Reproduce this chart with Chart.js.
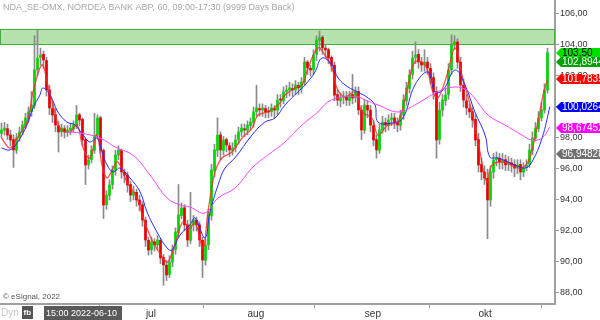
<!DOCTYPE html>
<html>
<head>
    <title>NDA_SE-OMX 60 min</title>
    <script src="https://cdn.jsdelivr.net/npm/chart.js"></script>
    <style>
        body { margin: 0; background: #fff; }
        canvas { display: block; }
    </style>
</head>
<body>
    <canvas id="myChart" width="600" height="320"></canvas>

    <script>
        // one candle per half trading day (approx)
        var opens = [
            98.30, 98.50, 98.60, 98.20, 97.90, 97.20, 98.00, 98.40, 98.80, 99.30, 99.70,
            100.10, 102.40, 103.20, 103.40, 103.00, 101.10, 99.90, 99.50, 98.80, 98.40,
            98.60, 98.40, 98.50, 98.60, 98.80, 99.50, 99.20, 97.90, 96.30, 96.60,
            97.20, 98.20, 99.30, 97.20, 93.70, 94.30, 95.00, 95.90, 96.90, 97.20,
            95.80, 95.60, 95.00, 94.30, 94.50, 94.00, 93.70, 92.70, 91.40, 90.80,
            91.30, 91.10, 91.40, 90.30, 89.80, 89.20, 90.00, 90.80, 91.90, 93.00,
            93.50, 92.40, 91.40, 92.40, 92.70, 92.40, 91.40, 90.10, 91.10, 93.00,
            95.90, 97.20, 98.20, 97.20, 97.90, 97.50, 97.20, 97.40, 97.90, 98.40,
            98.60, 98.50, 98.80, 99.00, 99.70, 99.90, 99.80, 99.90, 99.70, 99.70,
            99.90, 99.80, 100.50, 100.40, 101.00, 101.10, 101.20, 101.10, 101.40, 101.20,
            101.60, 102.90, 102.50, 102.40, 103.40, 104.30, 104.50, 103.80, 103.70, 103.20,
            102.70, 100.80, 100.40, 100.60, 100.70, 100.40, 100.80, 100.60, 101.00, 99.80,
            98.50, 100.10, 99.80, 98.80, 97.90, 97.20, 98.50, 99.00, 98.80, 99.20,
            99.30, 99.00, 98.80, 99.50, 100.40, 101.20, 102.10, 103.20, 103.40, 102.90,
            102.70, 102.90, 102.50, 101.90, 101.00, 97.90, 99.80, 100.40, 100.80, 102.40,
            104.00, 104.20, 102.90, 101.40, 100.40, 99.90, 99.70, 99.20, 97.90, 96.30,
            95.80, 95.40, 94.00, 95.80, 96.60, 96.70, 96.40, 96.60, 96.30, 96.40,
            96.30, 96.10, 96.30, 95.80, 96.10, 96.30, 97.20, 98.00, 98.60, 99.30,
            99.80, 101.10
        ];
        var highs = [
            98.95, 99.00, 98.90, 98.50, 98.20, 98.30, 98.70, 99.10, 99.60, 100.00, 101.00,
            104.60, 105.00, 103.80, 103.60, 103.20, 101.40, 100.30, 99.90, 99.10, 98.90,
            98.80, 98.80, 98.90, 99.10, 100.10, 99.60, 99.30, 98.00, 96.90, 97.50,
            99.60, 99.50, 99.40, 97.30, 94.60, 95.30, 96.20, 97.20, 97.50, 97.30,
            96.00, 95.80, 95.20, 94.90, 94.70, 94.30, 93.90, 92.90, 91.60, 91.60,
            91.50, 91.70, 91.50, 90.50, 90.10, 90.40, 91.10, 92.20, 95.00, 93.80,
            93.70, 92.70, 94.50, 93.00, 92.90, 92.60, 91.60, 91.50, 93.40, 96.30,
            97.60, 99.30, 98.40, 98.10, 98.00, 97.70, 97.70, 98.20, 98.70, 98.90,
            98.90, 99.10, 99.30, 100.00, 101.40, 100.20, 100.20, 100.10, 100.00, 100.20,
            100.10, 100.80, 100.80, 101.30, 101.40, 101.60, 101.50, 101.70, 101.60, 101.90,
            103.20, 103.00, 102.70, 103.70, 104.60, 104.90, 104.60, 104.00, 103.80, 103.30,
            102.90, 101.10, 100.90, 101.00, 101.00, 101.00, 102.10, 101.30, 101.30, 100.10,
            100.50, 100.40, 100.10, 99.10, 98.20, 98.90, 99.40, 99.30, 99.50, 99.60,
            99.60, 99.30, 99.80, 100.80, 101.60, 102.40, 103.60, 104.20, 103.70, 103.20,
            103.70, 103.20, 102.80, 102.20, 101.30, 100.30, 100.80, 101.20, 102.80, 104.65,
            104.60, 104.40, 103.20, 101.80, 100.80, 100.20, 100.00, 99.50, 98.30, 96.70,
            96.20, 96.00, 96.20, 97.00, 97.10, 97.00, 97.00, 96.90, 96.80, 96.70,
            96.60, 96.60, 96.60, 96.40, 96.60, 97.60, 98.40, 99.00, 99.70, 100.30,
            101.50, 103.80
        ];
        var lows = [
            98.00, 98.20, 97.90, 97.50, 96.10, 97.00, 97.80, 98.20, 98.60, 99.00, 99.40,
            99.90, 102.00, 102.70, 102.50, 100.70, 99.50, 99.00, 98.40, 97.10, 98.10,
            98.00, 98.10, 98.20, 98.40, 98.60, 98.80, 97.50, 95.00, 96.00, 96.40,
            97.00, 98.00, 97.00, 92.80, 93.40, 94.00, 94.70, 95.60, 96.60, 95.40,
            95.10, 94.50, 93.90, 94.00, 93.60, 93.30, 92.30, 91.00, 90.45, 90.50,
            90.70, 90.80, 89.90, 88.50, 88.80, 89.00, 89.70, 90.50, 91.60, 92.80,
            92.00, 91.00, 91.20, 92.00, 92.00, 91.00, 89.00, 89.80, 90.80, 92.70,
            95.50, 96.80, 96.60, 96.90, 97.10, 96.80, 96.90, 97.10, 97.60, 98.10,
            98.10, 98.20, 98.50, 98.70, 99.40, 99.40, 99.40, 99.30, 99.30, 99.40,
            99.30, 99.50, 100.00, 100.20, 100.60, 100.70, 100.70, 100.80, 100.80, 100.90,
            101.40, 102.10, 102.00, 102.10, 103.00, 103.60, 103.40, 103.20, 102.80, 102.30,
            100.40, 100.10, 100.00, 100.20, 100.10, 100.10, 100.20, 100.30, 99.50, 97.90,
            98.30, 99.30, 98.40, 97.50, 96.70, 97.00, 98.30, 98.40, 98.50, 98.80,
            98.60, 98.40, 98.50, 99.20, 100.10, 100.90, 101.80, 102.80, 102.50, 102.30,
            102.30, 102.10, 101.50, 100.50, 96.70, 97.60, 99.40, 100.10, 100.50, 102.10,
            103.70, 102.50, 101.00, 100.00, 99.50, 99.30, 98.70, 97.50, 95.80, 95.30,
            95.00, 91.50, 93.60, 95.40, 96.20, 96.00, 96.00, 95.90, 95.90, 95.80,
            95.50, 95.70, 95.30, 95.50, 95.90, 96.10, 96.90, 97.80, 98.40, 99.10,
            99.60, 100.90
        ];
        var closes = [
            98.52, 98.64, 98.19, 97.87, 97.23, 98.00, 98.39, 98.84, 99.29, 99.68, 100.13,
            102.39, 103.16, 103.35, 103.03, 101.10, 99.94, 99.48, 98.84, 98.39, 98.64,
            98.39, 98.52, 98.64, 98.84, 99.48, 99.16, 97.87, 96.26, 96.58, 97.23,
            98.19, 99.29, 97.23, 93.68, 94.32, 94.97, 95.94, 96.90, 97.23, 95.81,
            95.61, 94.97, 94.32, 94.52, 94.00, 93.68, 92.71, 91.42, 90.77, 91.29,
            91.10, 91.42, 90.26, 89.81, 89.16, 90.00, 90.77, 91.94, 93.03, 93.48,
            92.39, 91.42, 92.39, 92.71, 92.39, 91.42, 90.13, 91.10, 93.03, 95.94,
            97.23, 98.19, 97.23, 97.87, 97.55, 97.23, 97.35, 97.87, 98.39, 98.64,
            98.52, 98.84, 99.03, 99.68, 99.94, 99.81, 99.94, 99.68, 99.68, 99.94,
            99.81, 100.45, 100.45, 100.97, 101.10, 101.23, 101.10, 101.42, 101.23, 101.61,
            102.90, 102.52, 102.39, 103.35, 104.32, 104.45, 103.81, 103.68, 103.16, 102.71,
            100.77, 100.45, 100.58, 100.71, 100.45, 100.77, 100.58, 100.97, 99.81, 98.52,
            100.13, 99.81, 98.84, 97.87, 97.23, 98.52, 99.03, 98.84, 99.16, 99.29,
            99.03, 98.84, 99.48, 100.45, 101.23, 102.06, 103.16, 103.35, 102.90, 102.71,
            102.90, 102.52, 101.87, 100.97, 97.87, 99.81, 100.45, 100.77, 102.39, 104.00,
            104.19, 102.90, 101.42, 100.45, 99.94, 99.68, 99.16, 97.87, 96.26, 95.81,
            95.42, 94.00, 95.81, 96.58, 96.71, 96.45, 96.58, 96.26, 96.45, 96.26,
            96.06, 96.26, 95.81, 96.06, 96.26, 97.23, 98.00, 98.64, 99.29, 99.81,
            101.10, 103.50
        ];

        // moving averages as [candle index, value]
        var maRed = [
            [0, 98.00], [2.8, 97.35], [5.2, 98.00], [8.5, 99.03], [10.5, 100.97], [12.8, 102.52],
            [13.8, 102.71], [15.2, 101.61], [17.2, 100.13], [19.5, 98.64], [22.8, 98.39],
            [25.2, 98.84], [27.2, 97.35], [29.5, 96.71], [31.8, 98.19], [33.5, 96.26],
            [35.2, 95.42], [37.2, 96.06], [38.8, 96.45], [41.8, 95.16], [45.2, 94.13],
            [47.2, 92.84], [50.5, 91.29], [53.8, 90.26], [55.5, 90.00], [58.5, 91.55],
            [60.5, 92.58], [62.8, 92.19], [64.5, 92.58], [67.2, 90.90], [68.8, 93.23],
            [71.2, 95.81], [73.5, 96.71], [76.8, 97.10], [80.2, 98.00], [83.5, 98.64],
            [85.5, 99.48], [88.8, 99.68], [92.2, 100.13], [94.5, 100.77], [97.8, 101.23],
            [100.2, 101.42], [102.2, 102.52], [105.5, 103.81], [107.8, 103.35], [110.2, 102.52],
            [111.8, 101.23], [114.5, 100.65], [117.8, 100.97], [120.2, 99.68], [123.5, 99.29],
            [125.5, 98.19], [128.8, 98.84], [132.2, 99.03], [135.5, 101.42], [137.8, 102.90],
            [141.2, 102.71], [143.8, 100.97], [145.5, 100.58], [148.5, 102.06], [151.2, 103.81],
            [153.5, 102.06], [156.8, 99.68], [159.5, 97.10], [161.8, 95.16], [163.5, 96.26],
            [167.8, 96.45], [172.2, 96.06], [175.5, 96.45], [178.8, 99.03], [180.5, 100.77],
            [182, 101.78]
        ];
        var maBlue = [
            [0, 97.35], [2.8, 97.23], [5.2, 97.68], [8.5, 98.84], [10.5, 99.94], [12.8, 100.77],
            [13.8, 101.23], [16.2, 100.77], [18.8, 99.68], [21.8, 99.03], [24.5, 98.84],
            [27.2, 98.19], [29.5, 97.74], [31.8, 98.00], [33.5, 97.10], [35.2, 96.26],
            [37.2, 95.81], [39.5, 96.06], [42.8, 95.42], [46.2, 94.52], [48.5, 93.23],
            [51.8, 91.94], [55.2, 90.90], [56.8, 90.77], [59.5, 91.74], [62.8, 92.39],
            [64.5, 92.84], [67.8, 91.55], [69.5, 93.23], [72.2, 94.97], [74.5, 96.06],
            [77.8, 96.71], [83.5, 98.19], [87.8, 99.03], [91.2, 99.29], [94.5, 100.13],
            [98.8, 100.97], [101.2, 101.42], [104.5, 102.26], [106.8, 103.16], [110.2, 102.71],
            [112.2, 101.87], [115.5, 101.29], [118.8, 100.97], [122.2, 100.58], [124.5, 100.13],
            [125.5, 99.03], [130.2, 98.97], [133.8, 99.29], [137.8, 101.42], [142.2, 102.26],
            [144.5, 100.97], [147.2, 101.10], [151.2, 102.39], [154.5, 101.42], [157.8, 99.68],
            [161.2, 98.19], [162.8, 96.77], [165.5, 96.71], [171.2, 96.26], [174.5, 96.06],
            [176.8, 96.45], [180.2, 98.00], [182.8, 100.03]
        ];
        var maPink = [
            [21.8, 98.39], [26.2, 98.32], [32.8, 98.00], [38.5, 97.35], [43.8, 96.90],
            [49.5, 95.61], [55.2, 94.13], [59.5, 93.68], [62.8, 93.55], [67.8, 93.16],
            [72.2, 94.13], [77.8, 94.77], [83.5, 96.06], [88.8, 96.90], [94.5, 97.74],
            [100.2, 98.84], [105.5, 99.68], [108.8, 100.32], [113.5, 100.65], [118.8, 100.65],
            [121.2, 100.45], [125.5, 100.13], [132.2, 99.68], [137.8, 100.13], [144.5, 100.90],
            [148.8, 101.23], [153.5, 101.23], [156.8, 100.77], [162.2, 99.48], [167.8, 98.84],
            [173.5, 98.19], [176.8, 97.87], [180.2, 98.00], [182.8, 98.71]
        ];

        var priceTicks = [88, 90, 92, 94, 96, 98, 100, 102, 104, 106];
        var monthPos = [15.5, 49.8, 84.8, 123.8, 161.2];
        var monthNames = ['', 'jul', 'aug', 'sep', 'okt'];
        var zone = [104.0, 105.0];

        var tags = [
            { value: 103.50, text: '103,50', bg: '#00e000', fg: '#000' },
            { value: 102.8944, text: '102,8944', bg: '#00a000', fg: '#fff' },
            { value: 101.7835, text: '101,7835', bg: '#ff0000', fg: '#fff' },
            { value: 100.0264, text: '100,0264', bg: '#0000ff', fg: '#fff' },
            { value: 98.67452, text: '98,67452', bg: '#ff00ff', fg: '#fff' },
            { value: 96.948289, text: '96,948289', bg: '#707070', fg: '#fff' }
        ];

        var FONT = 'Liberation Sans, Arial, sans-serif';

        var wickData = [], bodyData = [], bodyColors = [];
        for (var i = 0; i < closes.length; i++) {
            wickData.push({ x: i, y: [lows[i], highs[i]] });
            bodyData.push({ x: i, y: [opens[i], closes[i]] });
            bodyColors.push(closes[i] >= opens[i] ? '#00d800' : '#e80000');
        }
        function pts(arr) {
            return arr.map(function (p) { return { x: p[0], y: p[1] }; });
        }

        var zonePlugin = {
            id: 'zone',
            beforeDatasetsDraw: function (chart) {
                var c = chart.ctx, a = chart.chartArea, y = chart.scales.y;
                var top = y.getPixelForValue(zone[1]), bot = y.getPixelForValue(zone[0]);
                c.save();
                c.fillStyle = '#b6e2ae';
                c.fillRect(a.left, top, a.right - a.left, bot - top);
                c.strokeStyle = '#42ad3c';
                c.lineWidth = 1;
                c.strokeRect(a.left + 0.5, Math.round(top) + 0.5, a.right - a.left - 1, Math.round(bot - top));
                c.restore();
            }
        };

        var decoPlugin = {
            id: 'deco',
            afterDraw: function (chart) {
                var c = chart.ctx, a = chart.chartArea, y = chart.scales.y;
                c.save();
                // title and copyright
                c.font = '9px ' + FONT;
                c.fillStyle = '#a8a8a8';
                c.textBaseline = 'middle';
                c.fillText('NDA_SE-OMX, NORDEA BANK ABP, 60, 09:00-17:30 (9999 Days Back)', 3, 8);
                c.font = '8px ' + FONT;
                c.fillStyle = '#555';
                c.fillText('\u00a9 eSignal, 2022', 3, 297);

                // price tags on the right
                c.font = '10px ' + FONT;
                tags.forEach(function (t) {
                    var py = Math.round(y.getPixelForValue(t.value));
                    var x0 = a.right + 1;
                    c.fillStyle = t.bg;
                    c.beginPath();
                    c.moveTo(x0, py);
                    c.lineTo(x0 + 5, py - 5);
                    c.lineTo(600, py - 5);
                    c.lineTo(600, py + 5);
                    c.lineTo(x0 + 5, py + 5);
                    c.closePath();
                    c.fill();
                    c.fillStyle = t.fg;
                    c.fillText(t.text, x0 + 6, py + 0.5);
                });

                // bottom left bits
                c.font = '10px ' + FONT;
                c.fillStyle = '#c8c8c8';
                c.fillText('Dyn', 1, 313);
                c.fillStyle = '#555';
                c.fillRect(22, 306, 11, 13);
                c.fillStyle = '#fff';
                c.font = 'bold 8px ' + FONT;
                c.fillText('fb', 23.5, 313);
                c.fillStyle = '#5a5a5a';
                c.fillRect(44, 306, 78, 14);
                c.fillStyle = '#fff';
                c.font = '9px ' + FONT;
                c.fillText('15:00 2022-06-10', 46, 313.5);
                c.restore();
            }
        };

        var ctx = document.getElementById('myChart').getContext('2d');
        var myChart = new Chart(ctx, {
            type: 'bar',
            data: {
                datasets: [
                    { type: 'line', data: pts(maPink), borderColor: '#ff44ff', borderWidth: 1, pointRadius: 0, tension: 0.4, order: 0 },
                    { type: 'line', data: pts(maBlue), borderColor: '#2a2aff', borderWidth: 1, pointRadius: 0, tension: 0.4, order: 0 },
                    { type: 'line', data: pts(maRed), borderColor: 'rgba(255,40,40,0.8)', borderWidth: 1.3, pointRadius: 0, tension: 0.4, order: 0 },
                    { data: bodyData, backgroundColor: bodyColors, barThickness: 2, minBarLength: 1, grouped: false, order: 1 },
                    { data: wickData, backgroundColor: '#8a8a8a', barThickness: 1, grouped: false, order: 2 }
                ]
            },
            options: {
                responsive: false,
                animation: false,
                layout: { padding: 0 },
                plugins: { legend: { display: false }, tooltip: { enabled: false } },
                scales: {
                    x: {
                        type: 'linear',
                        min: -0.5,
                        max: 184.5,
                        offset: false,
                        grid: { drawOnChartArea: false, tickLength: 4, color: '#999' },
                        border: { color: '#a0a0a0', width: 2 },
                        afterBuildTicks: function (s) { s.ticks = monthPos.map(function (v) { return { value: v }; }); },
                        afterFit: function (s) {
                            s.height = 16;
                            s.paddingLeft = 0; s.paddingRight = 0;
                        },
                        ticks: {
                            autoSkip: false, maxRotation: 0, padding: 0,
                            font: { family: FONT, size: 10 }, color: '#333',
                            callback: function (v, i) { return monthNames[i]; }
                        }
                    },
                    y: {
                        position: 'right',
                        min: 87.29,
                        max: 106.903,
                        grid: { drawOnChartArea: false, tickLength: 4, color: '#999' },
                        border: { color: '#a0a0a0', width: 2 },
                        afterBuildTicks: function (s) { s.ticks = priceTicks.map(function (v) { return { value: v }; }); },
                        afterFit: function (s) {
                            s.width = 45;
                            s.paddingTop = 0; s.paddingBottom = 0;
                        },
                        ticks: {
                            padding: 1,
                            font: { family: FONT, size: 9 }, color: '#333',
                            callback: function (v) { return v.toFixed(2).replace('.', ','); }
                        }
                    }
                }
            },
            plugins: [zonePlugin, decoPlugin]
        });
    </script>
</body>
</html>
